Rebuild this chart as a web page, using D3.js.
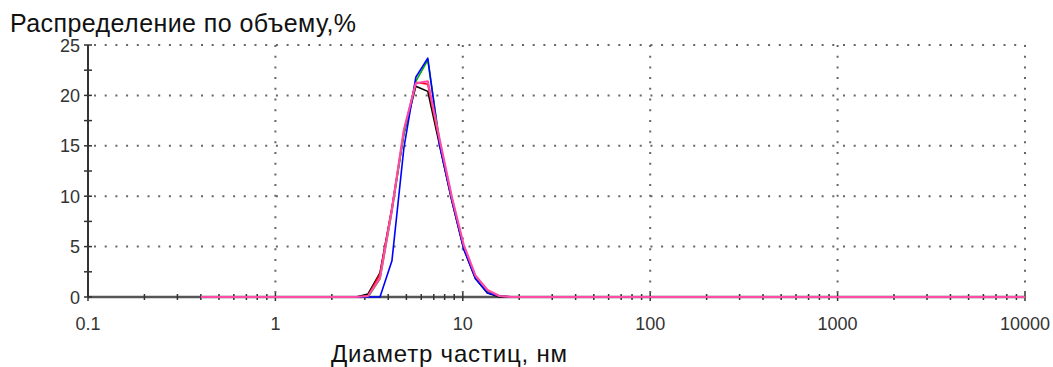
<!doctype html>
<html>
  <head>
    <meta charset="utf-8">
    <title>Распределение по объему</title>
    <style>
      body { margin: 0; background: #fff; }
      svg { display: block; font-family: "Liberation Sans", Arial, sans-serif; }
      .tick-label { fill: #333; font-size: 18px; }
      .grid { stroke: #666; stroke-width: 2; stroke-dasharray: 2, 8.7; }
    </style>
  </head>
  <body>
    <div id="content"></div>
    <script src="https://d3js.org/d3.v7.min.js"></script>
    <script>
      // size classes, nm
      const sizes = [0.4, 0.4632, 0.5365, 0.6213, 0.7195, 0.8332, 0.9649, 1.117, 1.294, 1.499,
        1.736, 2.010, 2.328, 2.696, 3.122, 3.615, 4.187, 4.849, 5.615, 6.503,
        7.531, 8.721, 10.10, 11.70, 13.54, 15.69, 18.17, 21.04, 24.36, 28.21,
        32.67, 37.84, 43.82, 50.75, 58.77, 68.06, 78.82, 91.28, 105.7, 122.4,
        141.8, 164.2, 190.1, 220.2, 255.0, 295.3, 342.0, 396.1, 458.7, 531.2,
        615.1, 712.4, 825.0, 955.4, 1106, 1281, 1484, 1718, 1990, 2305,
        2669, 3091, 3580, 4145, 4801, 5560, 6439, 7456, 8635, 10000];

      // volume %, one per size class
      const blackPct = [0, 0, 0, 0, 0, 0, 0, 0, 0, 0,
        0, 0, 0, 0, 0.3, 2.4, 8.8, 16.2, 20.9, 20.4,
        15.0, 9.6, 4.8, 1.8, 0.4, 0, 0, 0, 0, 0,
        0, 0, 0, 0, 0, 0, 0, 0, 0, 0, 0, 0, 0, 0, 0, 0, 0, 0, 0, 0,
        0, 0, 0, 0, 0, 0, 0, 0, 0, 0, 0, 0, 0, 0, 0, 0, 0, 0, 0, 0];
      const redPct = [0, 0, 0, 0, 0, 0, 0, 0, 0, 0,
        0, 0, 0, 0, 0.1, 2.3, 8.9, 16.4, 21.3, 21.1,
        15.3, 9.8, 5.0, 1.9, 0.5, 0.1, 0, 0, 0, 0,
        0, 0, 0, 0, 0, 0, 0, 0, 0, 0, 0, 0, 0, 0, 0, 0, 0, 0, 0, 0,
        0, 0, 0, 0, 0, 0, 0, 0, 0, 0, 0, 0, 0, 0, 0, 0, 0, 0, 0, 0];
      const greenPct = [0, 0, 0, 0, 0, 0, 0, 0, 0, 0,
        0, 0, 0, 0, 0, 1.8, 8.5, 16.2, 21.4, 23.5,
        15.4, 9.9, 5.0, 1.9, 0.6, 0.1, 0, 0, 0, 0,
        0, 0, 0, 0, 0, 0, 0, 0, 0, 0, 0, 0, 0, 0, 0, 0, 0, 0, 0, 0,
        0, 0, 0, 0, 0, 0, 0, 0, 0, 0, 0, 0, 0, 0, 0, 0, 0, 0, 0, 0];
      const bluePct = [0, 0, 0, 0, 0, 0, 0, 0, 0, 0,
        0, 0, 0, 0, 0, 0, 3.6, 14.8, 21.8, 23.7,
        15.0, 9.7, 4.8, 1.8, 0.4, 0.1, 0, 0, 0, 0,
        0, 0, 0, 0, 0, 0, 0, 0, 0, 0, 0, 0, 0, 0, 0, 0, 0, 0, 0, 0,
        0, 0, 0, 0, 0, 0, 0, 0, 0, 0, 0, 0, 0, 0, 0, 0, 0, 0, 0, 0];
      const pinkPct = [0, 0, 0, 0, 0, 0, 0, 0, 0, 0,
        0, 0, 0, 0, 0.1, 1.9, 8.7, 16.6, 21.2, 21.4,
        15.6, 10.0, 5.2, 2.1, 0.7, 0.1, 0, 0, 0, 0,
        0, 0, 0, 0, 0, 0, 0, 0, 0, 0, 0, 0, 0, 0, 0, 0, 0, 0, 0, 0,
        0, 0, 0, 0, 0, 0, 0, 0, 0, 0, 0, 0, 0, 0, 0, 0, 0, 0, 0, 0];

      const seriesNames = ['black', 'red', 'green', 'blue', 'pink'];
      const seriesColors = ['#000000', '#ff0000', '#00b000', '#0000ff', '#ff4aa8'];
      const seriesValues = [blackPct, redPct, greenPct, bluePct, pinkPct];

      const xMajor = [0.1, 1, 10, 100, 1000, 10000];
      const xMajorLabels = ['0.1', '1', '10', '100', '1000', '10000'];
      const yMajor = [0, 5, 10, 15, 20, 25];
      const yMinor = [2.5, 7.5, 12.5, 17.5, 22.5];

      const title = 'Распределение по объему,%';
      const xTitle = 'Диаметр частиц, нм';

      const W = 1053, H = 367;
      const x = d3.scaleLog().domain([0.1, 10000]).range([88, 1025]);
      const y = d3.scaleLinear().domain([0, 25]).range([297, 45]);

      const svg = d3.select('#content')
        .append('svg')
        .attr('width', W)
        .attr('height', H);

      // dotted grid
      const grid = svg.append('g');
      grid.selectAll('line.h')
        .data(yMajor.filter(d => d > 0))
        .join('line')
        .attr('class', 'grid h')
        .attr('x1', x(0.1) + 6).attr('x2', x(10000))
        .attr('y1', d => y(d)).attr('y2', d => y(d));
      grid.selectAll('line.v')
        .data(xMajor.filter(d => d > 0.1))
        .join('line')
        .attr('class', 'grid v')
        .attr('x1', d => x(d)).attr('x2', d => x(d))
        .attr('y1', y(25)).attr('y2', y(0) - 4);

      // x minor ticks 2..9 in each decade
      const xMinor = [];
      xMajor.slice(0, -1).forEach(d => {
        for (let k = 2; k <= 9; k++) xMinor.push(d * k);
      });

      // x axis
      const xAxis = svg.append('g');
      xAxis.append('line')
        .attr('x1', x(0.1)).attr('x2', x(10000))
        .attr('y1', y(0)).attr('y2', y(0))
        .attr('stroke', '#555').attr('stroke-width', 2.5);
      xAxis.selectAll('line.minor')
        .data(xMinor)
        .join('line')
        .attr('class', 'minor')
        .attr('x1', d => x(d)).attr('x2', d => x(d))
        .attr('y1', y(0) - 3).attr('y2', y(0) + 3)
        .attr('stroke', '#333').attr('stroke-width', 1.5);
      xAxis.selectAll('line.major')
        .data(xMajor)
        .join('line')
        .attr('class', 'major')
        .attr('x1', d => x(d)).attr('x2', d => x(d))
        .attr('y1', y(0) - 4).attr('y2', y(0) + 4)
        .attr('stroke', '#333').attr('stroke-width', 1.5);

      // series
      const line = d3.line()
        .x(d => x(d[0]))
        .y(d => y(d[1]));
      seriesValues.forEach((vals, i) => {
        svg.append('path')
          .datum(sizes.map((s, j) => [s, vals[j]]))
          .attr('fill', 'none')
          .attr('stroke', seriesColors[i])
          .attr('stroke-width', i === 4 ? 2.2 : 1.6)
          .attr('stroke-linejoin', 'round')
          .attr('d', line);
      });

      // y axis
      const yAxis = svg.append('g');
      yAxis.append('line')
        .attr('x1', x(0.1)).attr('x2', x(0.1))
        .attr('y1', y(25)).attr('y2', y(0))
        .attr('stroke', '#333').attr('stroke-width', 2);
      yAxis.selectAll('line.tk')
        .data(yMajor.concat(yMinor))
        .join('line')
        .attr('class', 'tk')
        .attr('x1', x(0.1) - 4).attr('x2', x(0.1) + 4)
        .attr('y1', d => y(d)).attr('y2', d => y(d))
        .attr('stroke', '#333').attr('stroke-width', 1.5);

      yAxis.selectAll('text')
        .data(yMajor)
        .join('text')
        .attr('class', 'tick-label')
        .attr('x', x(0.1) - 8)
        .attr('y', d => y(d) + 6.5)
        .attr('text-anchor', 'end')
        .text(d => d);

      xAxis.selectAll('text')
        .data(xMajor)
        .join('text')
        .attr('class', 'tick-label')
        .attr('x', d => x(d))
        .attr('y', 330)
        .attr('text-anchor', 'middle')
        .text((d, i) => xMajorLabels[i]);

      svg.append('text')
        .attr('x', 10)
        .attr('y', 32)
        .attr('font-size', 25)
        .attr('textLength', 346)
        .attr('fill', '#111')
        .text(title);

      svg.append('text')
        .attr('x', 449)
        .attr('y', 362)
        .attr('text-anchor', 'middle')
        .attr('font-size', 24)
        .attr('textLength', 236)
        .attr('fill', '#111')
        .text(xTitle);
    </script>
  </body>
</html>
